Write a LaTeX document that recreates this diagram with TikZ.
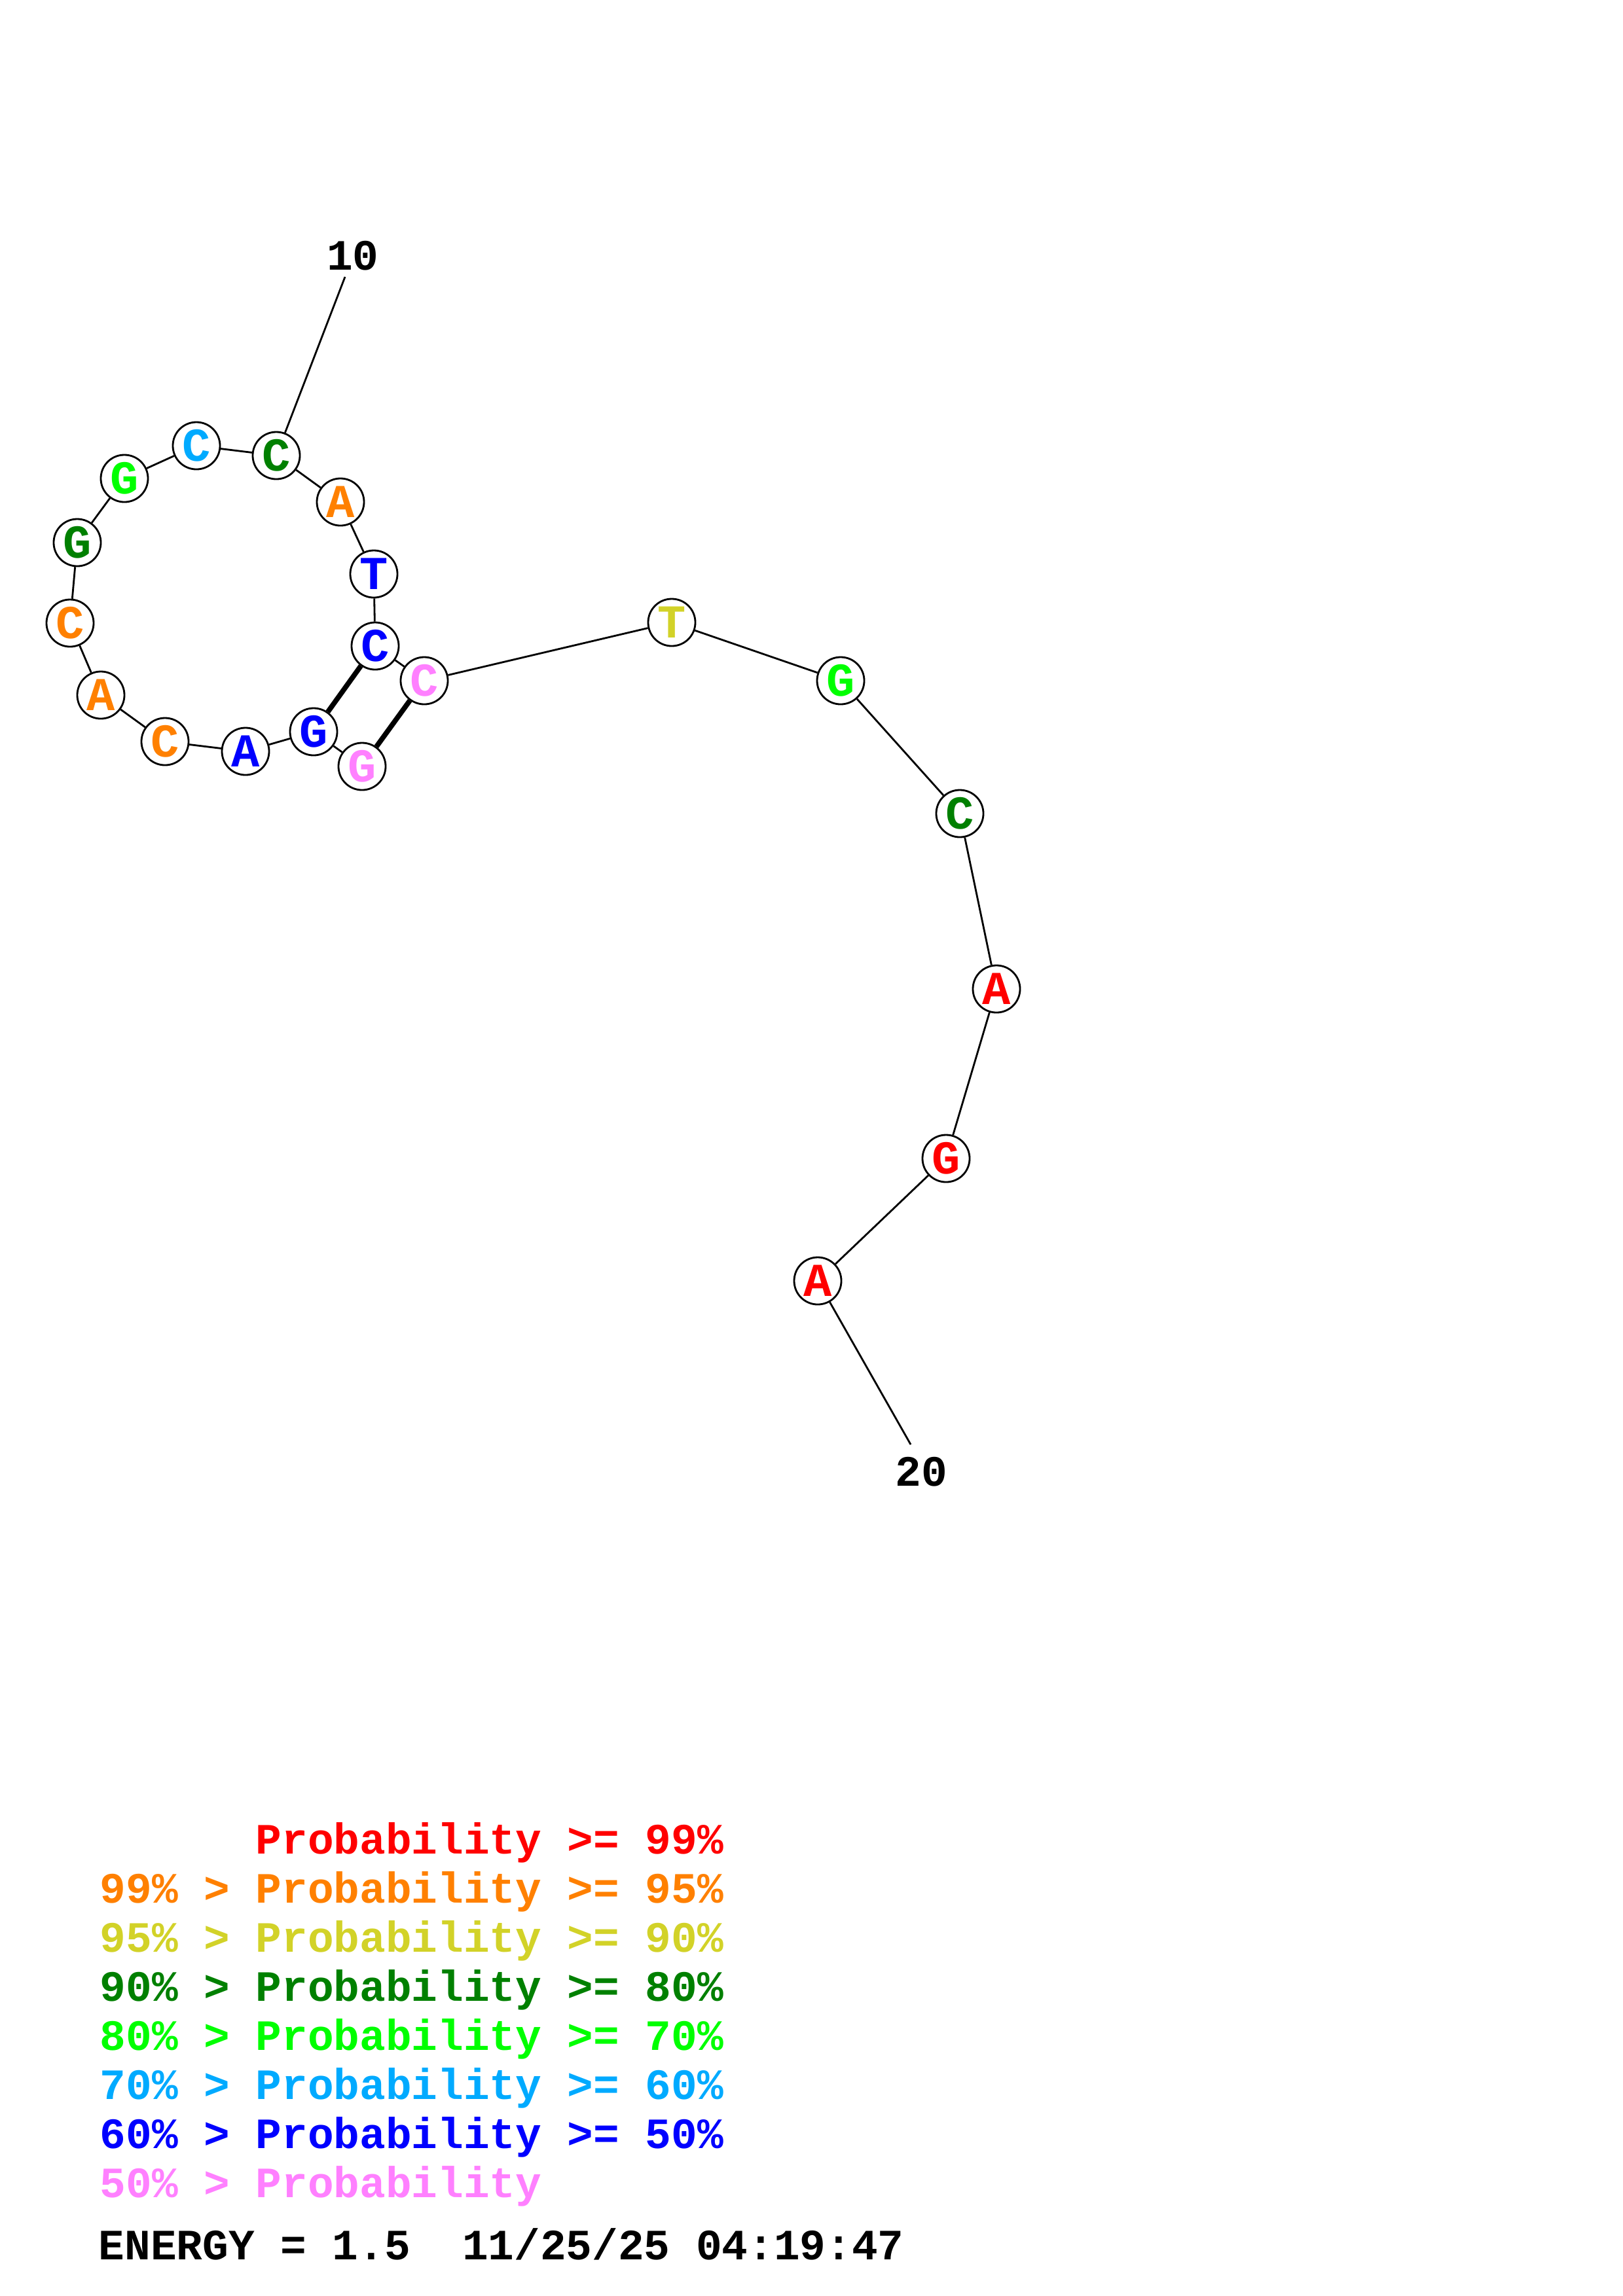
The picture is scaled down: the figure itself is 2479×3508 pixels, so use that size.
\documentclass[tikz,border=0pt]{standalone}
\usepackage{fontspec}
\setmonofont{Liberation Mono}
\usepackage{xcolor}
\usepackage{tikz}
\definecolor{pRed}{RGB}{255,0,0}
\definecolor{pOrange}{RGB}{255,128,0}
\definecolor{pYellow}{RGB}{210,210,40}
\definecolor{pGreen}{RGB}{0,128,0}
\definecolor{pLime}{RGB}{0,255,0}
\definecolor{pSky}{RGB}{0,170,255}
\definecolor{pBlue}{RGB}{0,0,255}
\definecolor{pPink}{RGB}{255,128,255}
\newcommand{\legfont}{\fontsize{18.8}{18.8}\selectfont\ttfamily\bfseries}
\newcommand{\basefont}{\fontsize{20.5}{20.5}\selectfont\ttfamily\bfseries}

\begin{document}
\begin{tikzpicture}[x=0.01cm, y=-0.01cm,
        base/.style={draw, circle, fill=white, line width=0.8pt, minimum size=0.72cm, inner sep=0pt, font=\basefont},
        pair/.style={line width=2.2pt},
        legend/.style={anchor=base west, inner sep=0pt, font=\legfont}]
        \useasboundingbox (0,0) rectangle (2479,3508);

        % bases, 5' end at the inner G
        \node[base, text=pPink] (b1) at (553,1171) {G};
        \node[base, text=pBlue] (b2) at (479,1118) {G};
        \node[base, text=pBlue] (b3) at (375,1148) {A};
        \node[base, text=pOrange] (b4) at (252,1133) {C};
        \node[base, text=pOrange] (b5) at (154,1062) {A};
        \node[base, text=pOrange] (b6) at (107,952) {C};
        \node[base, text=pGreen] (b7) at (118,829) {G};
        \node[base, text=pLime] (b8) at (190,731) {G};
        \node[base, text=pSky] (b9) at (300,681) {C};
        \node[base, text=pGreen] (b10) at (422,696) {C};
        \node[base, text=pOrange] (b11) at (520,767) {A};
        \node[base, text=pBlue] (b12) at (571,877) {T};
        \node[base, text=pBlue] (b13) at (573,987) {C};
        \node[base, text=pPink] (b14) at (648,1040) {C};
        \node[base, text=pYellow] (b15) at (1026,951) {T};
        \node[base, text=pLime] (b16) at (1284,1040) {G};
        \node[base, text=pGreen] (b17) at (1466,1243) {C};
        \node[base, text=pRed] (b18) at (1522,1511) {A};
        \node[base, text=pRed] (b19) at (1445,1770) {G};
        \node[base, text=pRed] (b20) at (1249,1957) {A};

        % backbone
        \draw[line width=0.8pt] (b1) -- (b2) -- (b3) -- (b4) -- (b5) -- (b6) -- (b7) -- (b8) -- (b9) -- (b10)
            -- (b11) -- (b12) -- (b13) -- (b14) -- (b15) -- (b16) -- (b17) -- (b18) -- (b19) -- (b20);

        % base pairs
        \draw[pair] (b2) -- (b13);
        \draw[pair] (b1) -- (b14);

        % position ticks
        \coordinate (t10) at (527,423);
        \node[font=\legfont] (l10) at (539,391) {10};
        \draw[line width=0.8pt] (b10) -- (t10);
        \coordinate (t20) at (1391,2207);
        \node[font=\legfont] (l20) at (1407,2249) {20};
        \draw[line width=0.8pt] (b20) -- (t20);

        % legend
        \node[legend, text=pRed] (g1) at (152,2832) {\hphantom{99\% > }Probability >= 99\%};
        \node[legend, text=pOrange] (g2) at (152,2907) {99\% > Probability >= 95\%};
        \node[legend, text=pYellow] (g3) at (152,2982) {95\% > Probability >= 90\%};
        \node[legend, text=pGreen] (g4) at (152,3057) {90\% > Probability >= 80\%};
        \node[legend, text=pLime] (g5) at (152,3132) {80\% > Probability >= 70\%};
        \node[legend, text=pSky] (g6) at (152,3207) {70\% > Probability >= 60\%};
        \node[legend, text=pBlue] (g7) at (152,3282) {60\% > Probability >= 50\%};
        \node[legend, text=pPink] (g8) at (152,3357) {50\% > Probability};
        \node[legend] (energy) at (150,3452) {ENERGY = 1.5\ \ 11/25/25 04:19:47};
\end{tikzpicture}
\end{document}
